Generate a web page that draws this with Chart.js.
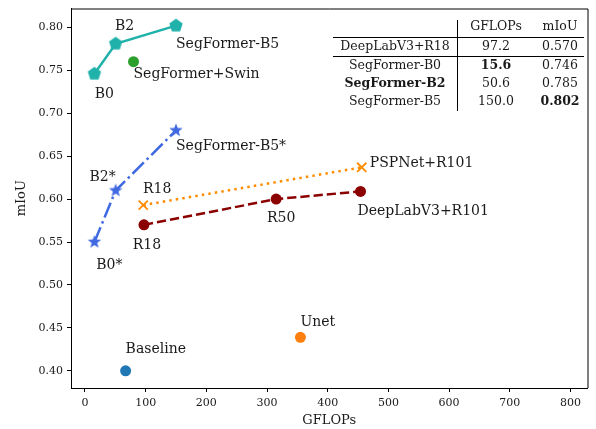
<!DOCTYPE html>
<html>
<head>
<meta charset="utf-8">
<script src="https://cdn.jsdelivr.net/npm/chart.js"></script>
<style>
  html, body { margin: 0; padding: 0; background: #fff; }
  #wrap { width: 596px; height: 429px; }
</style>
</head>
<body>
<div id="wrap"><canvas id="chart" width="596" height="429"></canvas></div>
<script>
// --- data ---
const segGflops = [15.6, 50.6, 150.0];
const segMiou = [0.746, 0.781, 0.802];
const segStarMiou = [0.550, 0.610, 0.680];
const segNames = ['B0', 'B2', 'SegFormer-B5'];
const segStarNames = ['B0*', 'B2*', 'SegFormer-B5*'];

const pspGflops = [96, 456];
const pspMiou = [0.593, 0.637];
const pspNames = ['R18', 'PSPNet+R101'];

const dlGflops = [97.2, 315, 454];
const dlMiou = [0.570, 0.600, 0.609];
const dlNames = ['R18', 'R50', 'DeepLabV3+R101'];

const swinGflops = [80];
const swinMiou = [0.760];
const baselineGflops = [67];
const baselineMiou = [0.400];
const unetGflops = [355];
const unetMiou = [0.439];

const xTicks = [0, 100, 200, 300, 400, 500, 600, 700, 800];
const yTicks = [0.40, 0.45, 0.50, 0.55, 0.60, 0.65, 0.70, 0.75, 0.80];

const tableHeader = ['', 'GFLOPs', 'mIoU'];
const tableModels = ['DeepLabV3+R18', 'SegFormer-B0', 'SegFormer-B2', 'SegFormer-B5'];
const tableGflops = ['97.2', '15.6', '50.6', '150.0'];
const tableMiou = ['0.570', '0.746', '0.785', '0.802'];

const SERIF = '"DejaVu Serif", serif';

function pts(xs, ys) { return xs.map((x, i) => ({ x: x, y: ys[i] })); }

function polyMarker(color, r, star) {
  const c = document.createElement('canvas');
  const s = Math.ceil(r * 2 + 2);
  c.width = s; c.height = s;
  const g = c.getContext('2d');
  g.fillStyle = color;
  g.beginPath();
  const n = star ? 10 : 5;
  for (let i = 0; i < n; i++) {
    const a = -Math.PI / 2 + i * 2 * Math.PI / n;
    const rr = star && i % 2 ? r * 0.42 : r;
    const px = s / 2 + rr * Math.cos(a), py = s / 2 + rr * Math.sin(a);
    i ? g.lineTo(px, py) : g.moveTo(px, py);
  }
  g.closePath();
  g.fill();
  return c;
}

const pentagon = polyMarker('#20b2aa', 7, false);
const starMark = polyMarker('#4169e1', 7, true);

// label offsets in pixels from each point: [dx, dy, align]
const labelLayout = {
  seg: [[10, 21, 'center'], [9, -17, 'center'], [0, 19, 'left']],
  segStar: [[15, 23, 'center'], [-13, -13, 'center'], [0, 16, 'left']],
  psp: [[14, -16, 'center'], [8, -4, 'left']],
  dl: [[3, 20, 'center'], [5, 19, 'center'], [-3, 20, 'left']],
  swin: [[0, 13, 'left']],
  baseline: [[0, -21, 'left']],
  unet: [[0, -15, 'left']]
};

const datasets = [
  { key: 'seg', names: segNames, data: pts(segGflops, segMiou), showLine: true,
    borderColor: '#20b2aa', backgroundColor: '#20b2aa', borderWidth: 2.5,
    pointStyle: pentagon },
  { key: 'segStar', names: segStarNames, data: pts(segGflops, segStarMiou), showLine: true,
    borderColor: '#4169e1', backgroundColor: '#4169e1', borderWidth: 2.5,
    borderDash: [16, 4, 2.5, 4], pointStyle: starMark },
  { key: 'psp', names: pspNames, data: pts(pspGflops, pspMiou), showLine: true,
    borderColor: '#ff8c00', backgroundColor: '#ff8c00', borderWidth: 2.5,
    borderDash: [2.5, 4.1], pointStyle: 'crossRot', pointRadius: 6.5, pointBorderWidth: 1.8 },
  { key: 'dl', names: dlNames, data: pts(dlGflops, dlMiou), showLine: true,
    borderColor: '#8b0000', backgroundColor: '#8b0000', borderWidth: 2.5,
    borderDash: [9.25, 4], pointStyle: 'circle', pointRadius: 5.5, pointBorderWidth: 0 },
  { key: 'swin', names: ['SegFormer+Swin'], data: pts(swinGflops, swinMiou),
    backgroundColor: '#2ca02c', borderColor: '#2ca02c', pointRadius: 5.5, pointBorderWidth: 0 },
  { key: 'baseline', names: ['Baseline'], data: pts(baselineGflops, baselineMiou),
    backgroundColor: '#1f77b4', borderColor: '#1f77b4', pointRadius: 5.5, pointBorderWidth: 0 },
  { key: 'unet', names: ['Unet'], data: pts(unetGflops, unetMiou),
    backgroundColor: '#ff7f0e', borderColor: '#ff7f0e', pointRadius: 5.5, pointBorderWidth: 0 }
];

function noPad(s) {
  s.paddingTop = 0; s.paddingBottom = 0; s.paddingLeft = 0; s.paddingRight = 0;
}

const extras = {
  id: 'extras',
  afterDatasetsDraw(chart) {
    const ctx = chart.ctx;
    const { left, right, top, bottom } = chart.chartArea;
    ctx.save();
    // top and right frame
    ctx.strokeStyle = '#000';
    ctx.lineWidth = 1;
    ctx.beginPath();
    ctx.moveTo(left, top + 0.5); ctx.lineTo(right + 0.5, top + 0.5); ctx.lineTo(right + 0.5, bottom);
    ctx.stroke();

    // point labels
    ctx.fillStyle = '#1a1a1a';
    ctx.font = '14px ' + SERIF;
    ctx.textBaseline = 'middle';
    chart.data.datasets.forEach((ds, di) => {
      const meta = chart.getDatasetMeta(di);
      ds.names.forEach((name, i) => {
        const el = meta.data[i];
        const [dx, dy, align] = labelLayout[ds.key][i];
        ctx.textAlign = align;
        ctx.fillText(name, el.x + dx, el.y + dy);
      });
    });

    // table
    const tl = 333, tr = 584, vx = 457;
    const c1 = 395, c2 = 496, c3 = 560;
    const rowY = [27, 47, 65.5, 83.5, 101.5];
    ctx.font = '12.5px ' + SERIF;
    ctx.textAlign = 'center';
    ctx.fillText(tableHeader[1], c2, rowY[0]);
    ctx.fillText(tableHeader[2], c3, rowY[0]);
    tableModels.forEach((m, i) => {
      const y = rowY[i + 1];
      ctx.font = (i === 2 ? 'bold ' : '') + '12.5px ' + SERIF;
      ctx.fillText(m, c1, y);
      ctx.font = (i === 1 ? 'bold ' : '') + '12.5px ' + SERIF;
      ctx.fillText(tableGflops[i], c2, y);
      ctx.font = (i === 3 ? 'bold ' : '') + '12.5px ' + SERIF;
      ctx.fillText(tableMiou[i], c3, y);
    });
    ctx.strokeStyle = '#000';
    ctx.lineWidth = 1;
    ctx.beginPath();
    ctx.moveTo(vx + 0.5, 20); ctx.lineTo(vx + 0.5, 111);
    ctx.moveTo(tl, 37.5); ctx.lineTo(tr, 37.5);
    ctx.moveTo(tl, 56.5); ctx.lineTo(tr, 56.5);
    ctx.stroke();

    // axis titles
    ctx.font = '13px ' + SERIF;
    ctx.textAlign = 'center';
    ctx.fillText('GFLOPs', (left + right) / 2, 421);
    ctx.translate(22, (top + bottom) / 2);
    ctx.rotate(-Math.PI / 2);
    ctx.fillText('mIoU', 0, 0);
    ctx.restore();
  }
};

new Chart(document.getElementById('chart'), {
  type: 'scatter',
  data: { datasets: datasets },
  options: {
    responsive: false,
    animation: false,
    layout: { padding: { top: 5, right: 6, left: 0, bottom: 0 } },
    plugins: { legend: { display: false }, tooltip: { enabled: false } },
    elements: { point: { radius: 6 }, line: { tension: 0 } },
    scales: {
      x: {
        type: 'linear', min: -23, max: 828,
        afterBuildTicks: s => { s.ticks = xTicks.map(v => ({ value: v })); },
        afterFit: s => { s.height = 41; noPad(s); },
        grid: { drawOnChartArea: false, drawTicks: true, tickLength: 4, color: '#000' },
        border: { display: true, color: '#000', width: 1 },
        ticks: { font: { family: SERIF, size: 11 }, color: '#1a1a1a', padding: 5, maxRotation: 0,
                 callback: v => String(v) }
      },
      y: {
        type: 'linear', min: 0.380, max: 0.822,
        afterBuildTicks: s => { s.ticks = yTicks.map(v => ({ value: v })); },
        afterFit: s => { s.width = 71; noPad(s); },
        grid: { drawOnChartArea: false, drawTicks: true, tickLength: 4, color: '#000' },
        border: { display: true, color: '#000', width: 1 },
        ticks: { font: { family: SERIF, size: 11 }, color: '#1a1a1a', padding: 4,
                 callback: v => v.toFixed(2) }
      }
    }
  },
  plugins: [extras]
});
</script>
</body>
</html>
